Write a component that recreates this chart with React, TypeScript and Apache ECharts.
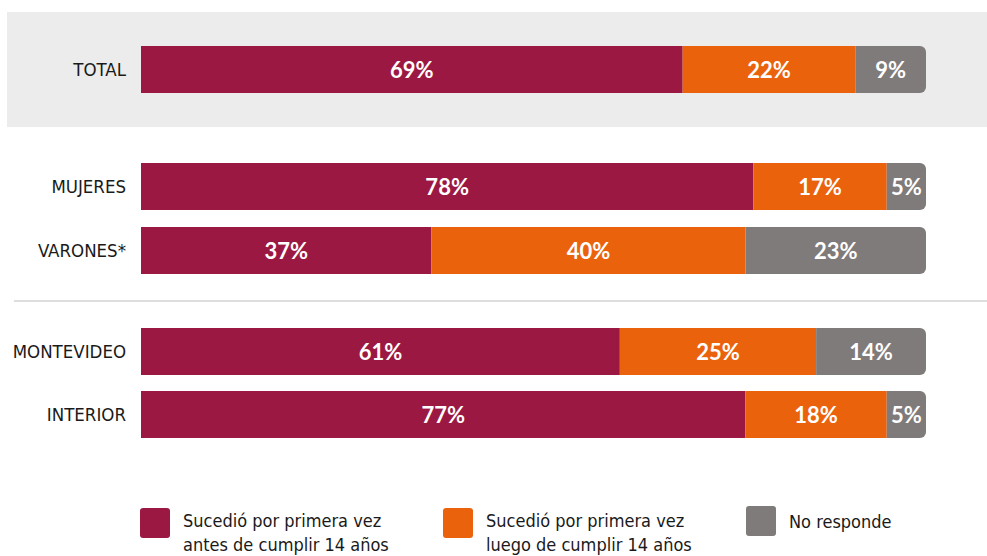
import React, { useEffect, useRef } from "react";
import * as echarts from "echarts";

const totalCats = ["TOTAL"];
const sexCats = ["MUJERES", "VARONES*"];
const regionCats = ["MONTEVIDEO", "INTERIOR"];

const antesTotal = [69];
const luegoTotal = [22];
const noRespTotal = [9];

const antesSex = [78, 37];
const luegoSex = [17, 40];
const noRespSex = [5, 23];

const antesRegion = [61, 77];
const luegoRegion = [25, 18];
const noRespRegion = [14, 5];

const seriesNames = [
  "Sucedió por primera vez\nantes de cumplir 14 años",
  "Sucedió por primera vez\nluego de cumplir 14 años",
  "No responde",
];
const colors = ["#9b1842", "#eb620d", "#807b7b"];

const LABEL_FONT = "'Liberation Sans Narrow', 'DejaVu Sans Condensed', sans-serif";
const ICON = "path://M3,0 H27 Q30,0 30,3 V27 Q30,30 27,30 H3 Q0,30 0,27 V3 Q0,0 3,0 Z";

export default function App() {
  const ref = useRef<HTMLDivElement>(null);
  useEffect(() => {
    if (!ref.current) return;
    const chart = echarts.init(ref.current, null, { renderer: "svg" });
    const groups = [
      { cats: totalCats, vals: [antesTotal, luegoTotal, noRespTotal], top: 46, height: 47 },
      { cats: sexCats, vals: [antesSex, luegoSex, noRespSex], top: 154.5, height: 128 },
      { cats: regionCats, vals: [antesRegion, luegoRegion, noRespRegion], top: 320, height: 126 },
    ];
    const grids = groups.map((g) => ({ left: 141, width: 785, top: g.top, height: g.height }));
    const xAxes = groups.map((_, i) => ({
      type: "value" as const,
      gridIndex: i,
      min: 0,
      max: 100,
      show: false,
    }));
    const yAxes = groups.map((g, i) => ({
      type: "category" as const,
      gridIndex: i,
      data: g.cats,
      inverse: true,
      axisLine: { show: false },
      axisTick: { show: false },
      splitLine: { show: false },
      axisLabel: {
        color: "#1a1a1a",
        fontFamily: LABEL_FONT,
        fontSize: 18.5,
        margin: 15,
      },
    }));
    const series: any[] = [];
    groups.forEach((g, gi) => {
      g.vals.forEach((vals, si) => {
        series.push({
          type: "bar",
          name: seriesNames[si],
          xAxisIndex: gi,
          yAxisIndex: gi,
          stack: "s" + gi,
          barWidth: 47,
          data: vals,
          itemStyle: {
            color: colors[si],
            borderRadius: si === 2 ? [0, 6, 6, 0] : 0,
          },
          label: {
            show: true,
            position: "inside",
            formatter: "{c}%",
            color: "#ffffff",
            fontFamily: "Lato, 'Open Sans', sans-serif",
            fontWeight: "bold",
            fontSize: 22,
          },
        });
      });
    });
    const textBase = {
      fontFamily: LABEL_FONT,
      fontSize: 18,
      color: "#1a1a1a",
    };
    const twoLineFormatter = (name: string) => {
      const parts = name.split("\n");
      return "{s| }\n" + parts.map((p) => "{t|" + p + "}").join("\n");
    };
    const twoLineText = {
      ...textBase,
      rich: {
        s: { ...textBase, fontSize: 1, lineHeight: 18, height: 18 },
        t: { ...textBase, lineHeight: 24, padding: [0, 0, 0, 8] },
      },
    };
    const legendBase = {
      orient: "horizontal" as const,
      padding: 0,
      selectedMode: false,
      itemWidth: 30,
      itemHeight: 30,
      icon: ICON,
    };
    chart.setOption({
      animation: false,
      backgroundColor: "#ffffff",
      graphic: [
        {
          type: "rect",
          z: -10,
          silent: true,
          shape: { x: 7, y: 12, width: 980, height: 115 },
          style: { fill: "#ececec" },
        },
        {
          type: "line",
          z: -10,
          silent: true,
          shape: { x1: 14, y1: 301, x2: 987, y2: 301 },
          style: { stroke: "#dedede", lineWidth: 2 },
        },
      ],
      grid: grids,
      xAxis: xAxes,
      yAxis: yAxes,
      legend: [
        {
          ...legendBase,
          left: 140,
          top: 490,
          formatter: twoLineFormatter,
          data: [{ name: seriesNames[0], itemStyle: { color: colors[0] } }],
          textStyle: twoLineText,
        },
        {
          ...legendBase,
          left: 443,
          top: 490,
          formatter: twoLineFormatter,
          data: [{ name: seriesNames[1], itemStyle: { color: colors[1] } }],
          textStyle: twoLineText,
        },
        {
          ...legendBase,
          left: 746,
          top: 506,
          data: [{ name: seriesNames[2], itemStyle: { color: colors[2] } }],
          textStyle: { ...textBase, lineHeight: 24, padding: [0, 0, 4, 8] },
        },
      ],
      series,
    });
    return () => chart.dispose();
  }, []);
  return (
    <div
      ref={ref}
      style={{ position: "fixed", left: 0, top: 0, width: 987, height: 556 }}
    />
  );
}
